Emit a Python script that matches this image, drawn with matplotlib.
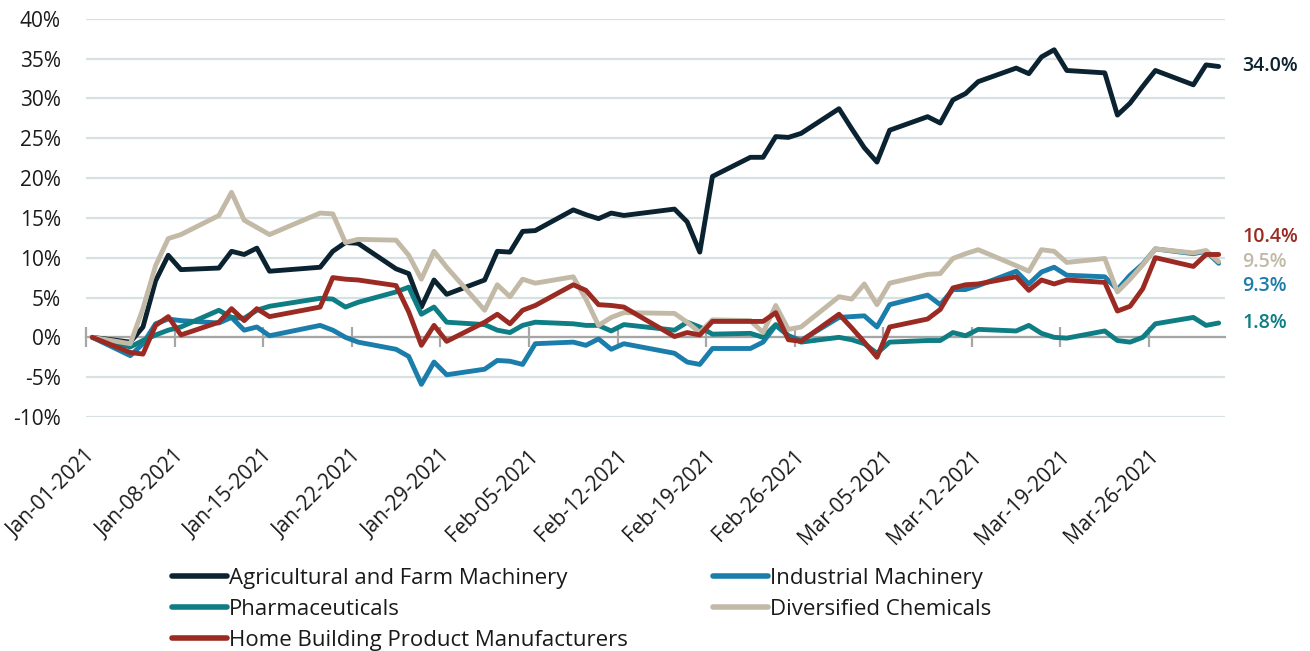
import matplotlib
matplotlib.use("Agg")
import matplotlib.pyplot as plt
import pandas as pd
import numpy as np

# ---------------- data ----------------
dates = [
    "2021-01-01", "2021-01-04", "2021-01-05", "2021-01-06", "2021-01-07", "2021-01-08",
    "2021-01-11", "2021-01-12", "2021-01-13", "2021-01-14", "2021-01-15",
    "2021-01-19", "2021-01-20", "2021-01-21", "2021-01-22",
    "2021-01-25", "2021-01-26", "2021-01-27", "2021-01-28", "2021-01-29",
    "2021-02-01", "2021-02-02", "2021-02-03", "2021-02-04", "2021-02-05",
    "2021-02-08", "2021-02-09", "2021-02-10", "2021-02-11", "2021-02-12",
    "2021-02-16", "2021-02-17", "2021-02-18", "2021-02-19",
    "2021-02-22", "2021-02-23", "2021-02-24", "2021-02-25", "2021-02-26",
    "2021-03-01", "2021-03-02", "2021-03-03", "2021-03-04", "2021-03-05",
    "2021-03-08", "2021-03-09", "2021-03-10", "2021-03-11", "2021-03-12",
    "2021-03-15", "2021-03-16", "2021-03-17", "2021-03-18", "2021-03-19",
    "2021-03-22", "2021-03-23", "2021-03-24", "2021-03-25", "2021-03-26",
    "2021-03-29", "2021-03-30", "2021-03-31",
]

agricultural = [
    0.0, -0.6, 1.3, 7.1, 10.3, 8.5,
    8.7, 10.8, 10.4, 11.2, 8.3,
    8.8, 10.8, 11.9, 11.8,
    8.6, 8.0, 3.8, 7.2, 5.4,
    7.2, 10.8, 10.7, 13.3, 13.4,
    16.0, 15.4, 14.9, 15.6, 15.3,
    16.1, 14.5, 10.7, 20.2,
    22.6, 22.6, 25.2, 25.1, 25.6,
    28.7, 26.2, 23.8, 22.0, 26.0,
    27.7, 26.9, 29.8, 30.6, 32.1,
    33.8, 33.1, 35.2, 36.1, 33.5,
    33.2, 27.9, 29.4, 31.5, 33.5,
    31.7, 34.2, 34.0,
]

industrial = [
    0.0, -2.3, -0.8, 1.7, 2.3, 2.1,
    1.8, 2.5, 0.9, 1.3, 0.2,
    1.5, 0.9, 0.0, -0.6,
    -1.5, -2.4, -5.9, -3.1, -4.7,
    -4.0, -2.9, -3.0, -3.4, -0.8,
    -0.6, -1.0, -0.2, -1.5, -0.8,
    -2.0, -3.1, -3.4, -1.4,
    -1.4, -0.6, 1.5, 0.2, -0.4,
    2.5, 2.6, 2.7, 1.3, 4.1,
    5.3, 4.1, 6.0, 6.0, 6.5,
    8.3, 6.7, 8.2, 8.8, 7.8,
    7.6, 6.0, 7.8, 9.2, 11.1,
    10.5, 10.8, 9.3,
]

pharmaceuticals = [
    0.0, -1.2, -0.4, 0.3, 0.9, 1.3,
    3.4, 2.5, 2.4, 3.4, 3.9,
    4.9, 4.8, 3.8, 4.4,
    5.7, 6.3, 2.9, 3.8, 1.9,
    1.6, 0.9, 0.6, 1.5, 1.9,
    1.7, 1.5, 1.5, 0.8, 1.6,
    0.9, 1.9, 1.3, 0.4,
    0.5, 0.0, 1.6, 0.2, -0.6,
    0.0, -0.3, -0.8, -2.0, -0.6,
    -0.4, -0.4, 0.6, 0.2, 1.0,
    0.8, 1.5, 0.5, 0.0, -0.1,
    0.8, -0.4, -0.6, 0.0, 1.7,
    2.5, 1.5, 1.8,
]

diversified = [
    0.0, -0.8, 3.6, 9.0, 12.4, 12.9,
    15.3, 18.2, 14.7, 13.8, 12.9,
    15.6, 15.5, 11.9, 12.3,
    12.2, 10.3, 7.3, 10.8, 8.8,
    3.4, 6.6, 5.1, 7.3, 6.8,
    7.6, 4.8, 1.5, 2.5, 3.1,
    3.0, 1.9, 0.6, 2.2,
    2.1, 0.6, 4.0, 1.0, 1.3,
    5.1, 4.8, 6.7, 4.1, 6.8,
    7.9, 8.0, 9.9, 10.5, 11.0,
    9.0, 8.3, 11.0, 10.8, 9.4,
    9.9, 5.7, 7.3, 9.1, 11.1,
    10.6, 10.9, 9.5,
]

home_building = [
    0.0, -1.9, -2.1, 1.5, 2.6, 0.3,
    1.9, 3.6, 2.1, 3.6, 2.6,
    3.8, 7.5, 7.3, 7.2,
    6.5, 3.2, -1.0, 1.5, -0.5,
    1.9, 2.9, 1.7, 3.4, 4.0,
    6.6, 5.9, 4.1, 4.0, 3.8,
    0.1, 0.6, 0.3, 2.0,
    2.0, 2.0, 3.1, -0.3, -0.5,
    2.9, 1.2, -0.6, -2.5, 1.3,
    2.3, 3.5, 6.2, 6.6, 6.7,
    7.6, 5.9, 7.2, 6.7, 7.2,
    6.9, 3.3, 3.9, 6.1, 10.0,
    8.9, 10.4, 10.4,
]

series_names = [
    "Agricultural and Farm Machinery",
    "Industrial Machinery",
    "Pharmaceuticals",
    "Diversified Chemicals",
    "Home Building Product Manufacturers",
]
series_values = [agricultural, industrial, pharmaceuticals, diversified, home_building]

y_ticks = [-10, -5, 0, 5, 10, 15, 20, 25, 30, 35, 40]
tick_start = "2021-01-01"
tick_count = 13

# ---------------- style ----------------
colors = ["#0b2230", "#1a7dab", "#0e7d84", "#c3b9a7", "#9a2a22"]
label_offsets_pt = [0, -16.5, 0, 0, 12.5]  # vertical offsets of end labels
FONT = ["Open Sans", "DejaVu Sans"]
plt.rcParams["font.family"] = FONT

W, H = 1310, 651
fig = plt.figure(figsize=(W / 100, H / 100), dpi=100)
left_px, right_px, top_px, bottom_px = 86, 1225, 18.7, 417
ax = fig.add_axes([left_px / W, 1 - bottom_px / H,
                   (right_px - left_px) / W, (bottom_px - top_px) / H])

start = pd.Timestamp(tick_start)
x = np.array([(pd.Timestamp(d) - start).days for d in dates], dtype=float)

lines = []
for name, vals, col in zip(series_names, series_values, colors):
    ln, = ax.plot(x, vals, color=col, lw=3.5, label=name,
                  solid_joinstyle="round", solid_capstyle="round")
    lines.append(ln)

# end labels
for vals, col, off in zip(series_values, colors, label_offsets_pt):
    ax.annotate(f"{vals[-1]:.1f}%", xy=(x[-1], vals[-1]),
                xytext=(17, off), textcoords="offset points",
                ha="left", va="center", color=col, fontsize=14,
                fontweight="semibold", annotation_clip=False)

ax.set_xlim(-0.5, 89.5)
ax.set_ylim(-10, 40)

# y axis
ax.set_yticks(y_ticks)
ax.set_yticklabels([f"{v}%" for v in y_ticks])
ax.tick_params(axis="y", length=0, pad=18, labelsize=15, labelcolor="#1a1a1a")
ax.yaxis.grid(True, color="#d7e0e2", lw=1.6)
ax.set_axisbelow(True)

for s in ["top", "right", "left"]:
    ax.spines[s].set_visible(False)
ax.spines["bottom"].set_position(("data", 0))
ax.spines["bottom"].set_color("#a6a6a6")
ax.spines["bottom"].set_linewidth(1.6)
ax.spines["bottom"].set_zorder(1.5)

tick_dates = pd.date_range(start, periods=tick_count, freq="7D")
tick_days = [(d - start).days for d in tick_dates]
tick_pos = [d - 0.5 for d in tick_days]
tick_lbl = [d.strftime("%b-%d-%Y") for d in tick_dates]
ax.set_xticks(tick_pos)
ax.tick_params(axis="x", direction="inout", length=14, width=1.6,
               color="#a6a6a6", labelbottom=False)

sec = ax.secondary_xaxis(0)
sec.set_xticks(tick_days)
sec.set_xticklabels(tick_lbl)
sec.tick_params(length=0, pad=26, labelsize=15, labelcolor="#1a1a1a")
sec.spines["bottom"].set_visible(False)
for lbl in sec.get_xticklabels():
    lbl.set_rotation(45)
    lbl.set_ha("right")
    lbl.set_va("center")
    lbl.set_rotation_mode("anchor")

# legend
leg = fig.legend(handles=[lines[0], lines[2], lines[4], lines[1], lines[3]],
                 loc="upper left", bbox_to_anchor=(172 / W, 1 - 568 / H),
                 ncol=2, frameon=False, fontsize=16, handlelength=2.48,
                 handletextpad=0.1, columnspacing=3.8, labelspacing=0.44,
                 borderpad=0, borderaxespad=0)
for t in leg.get_texts():
    t.set_color("#1a1a1a")
for lh in leg.get_lines():
    lh.set_linewidth(4)
    lh.set_solid_capstyle("round")

fig.savefig("out.png", dpi=100)
